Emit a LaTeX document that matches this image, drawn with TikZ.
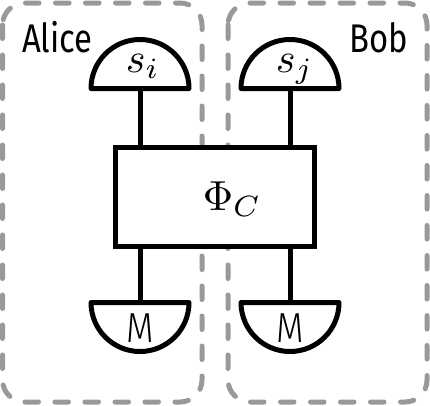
\documentclass[tikz,border=0pt]{standalone}
\usepackage{fontspec}
\setsansfont{Fira Sans}
\newfontfamily\lightsans{Fira Sans Light}
\begin{document}
\begin{tikzpicture}[x=1pt,y=-1pt,
  party/.style={draw=black!40, line width=5pt, dash pattern=on 13.5pt off 16.5pt, line cap=round, rounded corners=22pt},
  wire/.style={draw=black, line width=5pt},
  meter/.style={draw=black, fill=white, line width=5pt, line join=round},
  chan/.style={draw=black, fill=white, line width=5pt, minimum width=199pt, minimum height=99pt, inner sep=0pt},
  mathlbl/.style={inner sep=0pt, scale=4.2},
  namelbl/.style={inner sep=0pt, font=\sffamily\fontsize{40}{40}\selectfont, xscale=0.82},
  mlbl/.style={inner sep=0pt, font=\lightsans\fontsize{42}{42}\selectfont, xscale=0.85}]
\useasboundingbox (0,0) rectangle (430,405);
% parties
\draw[party] (2.5,3) rectangle (202,402);
\draw[party] (228,3) rectangle (427,402);
\node[namelbl, anchor=base west] (alice) at (22,52) {Alice};
\node[namelbl, anchor=base east] (bob) at (408,52) {Bob};
% channel
\coordinate (si) at (140,88.5);
\coordinate (sj) at (290,88.5);
\coordinate (mi) at (140,302.5);
\coordinate (mj) at (290,302.5);
\node[chan] (phi) at (214.5,196.5) {};
\node[mathlbl, anchor=base west] (phil) at (202,210) {$\Phi_C$};
% wires
\draw[wire] (si) -- (phi.north -| si);
\draw[wire] (sj) -- (phi.north -| sj);
\draw[wire] (phi.south -| mi) -- (mi);
\draw[wire] (phi.south -| mj) -- (mj);
% sources
\draw[meter] ([xshift=-49pt]si) arc[start angle=180, end angle=0, radius=49pt] -- cycle;
\draw[meter] ([xshift=-49pt]sj) arc[start angle=180, end angle=0, radius=49pt] -- cycle;
\node[mathlbl, anchor=base west] (sil) at (125,72) {$s_i$};
\node[mathlbl, anchor=base west] (sjl) at (275,72) {$s_j$};
% measurements
\draw[meter] ([xshift=-49pt]mi) arc[start angle=180, end angle=360, radius=49pt] -- cycle;
\draw[meter] ([xshift=-49pt]mj) arc[start angle=180, end angle=360, radius=49pt] -- cycle;
\node[mlbl, anchor=base] (mil) at (140,342) {M};
\node[mlbl, anchor=base] (mjl) at (290,342) {M};
\end{tikzpicture}
\end{document}
